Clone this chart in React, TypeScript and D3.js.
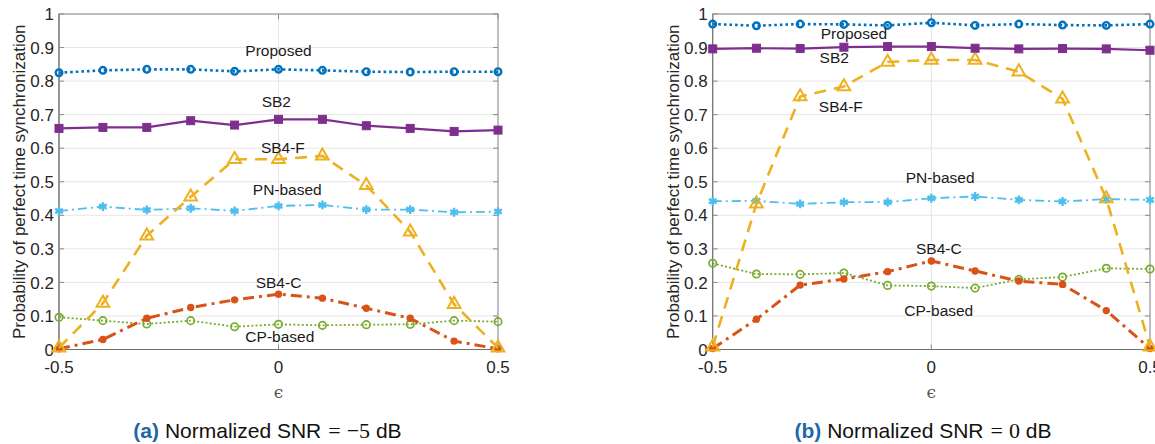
import React from "react";
import * as d3 from "d3";

// offsets epsilon
const eps = [-0.5, -0.4, -0.3, -0.2, -0.1, 0, 0.1, 0.2, 0.3, 0.4, 0.5];

// (a) normalized SNR = -5 dB
const proposedA = [0.825, 0.832, 0.835, 0.835, 0.829, 0.835, 0.832, 0.828, 0.827, 0.828, 0.828];
const sb2A = [0.659, 0.662, 0.662, 0.682, 0.669, 0.686, 0.686, 0.667, 0.659, 0.65, 0.654];
const sb4fA = [0.005, 0.138, 0.339, 0.455, 0.567, 0.567, 0.577, 0.489, 0.351, 0.135, 0.005];
const pnA = [0.413, 0.426, 0.416, 0.421, 0.413, 0.428, 0.431, 0.417, 0.417, 0.409, 0.411];
const sb4cA = [0.002, 0.03, 0.093, 0.125, 0.148, 0.165, 0.153, 0.123, 0.093, 0.025, 0.002];
const cpA = [0.096, 0.086, 0.076, 0.086, 0.068, 0.075, 0.072, 0.074, 0.075, 0.086, 0.083];

// (b) normalized SNR = 0 dB
const proposedB = [0.97, 0.965, 0.97, 0.969, 0.966, 0.974, 0.966, 0.97, 0.967, 0.966, 0.97];
const sb2B = [0.896, 0.898, 0.897, 0.901, 0.903, 0.903, 0.898, 0.896, 0.897, 0.896, 0.892];
const sb4fB = [0.008, 0.434, 0.754, 0.784, 0.857, 0.863, 0.863, 0.828, 0.747, 0.45, 0.008];
const pnB = [0.442, 0.443, 0.434, 0.439, 0.439, 0.451, 0.456, 0.446, 0.441, 0.448, 0.446];
const sb4cB = [0.003, 0.09, 0.192, 0.21, 0.232, 0.264, 0.234, 0.204, 0.194, 0.116, 0.003];
const cpB = [0.257, 0.225, 0.224, 0.228, 0.191, 0.189, 0.183, 0.209, 0.216, 0.242, 0.24];

const seriesNames = ["Proposed", "SB2", "SB4-F", "PN-based", "SB4-C", "CP-based"];

const yTicks = [0, 0.1, 0.2, 0.3, 0.4, 0.5, 0.6, 0.7, 0.8, 0.9, 1];
const yTickLabels = ["0", "0.1", "0.2", "0.3", "0.4", "0.5", "0.6", "0.7", "0.8", "0.9", "1"];
const xTicks = [-0.5, 0, 0.5];
const xTickLabels = ["-0.5", "0", "0.5"];

const W = 1155;
const H = 444;
const FONT = "'Liberation Sans', Arial, Helvetica, sans-serif";
const SERIF = "'Liberation Serif', 'DejaVu Serif', serif";

type Style = {
  color: string;
  width: number;
  dash: string;
  marker: "ring" | "square" | "triangle" | "asterisk" | "dot" | "circle";
};

const styles: Record<string, Style> = {
  Proposed: { color: "#0072BD", width: 2.6, dash: "2.6 3", marker: "ring" },
  SB2: { color: "#7E2F8E", width: 2.2, dash: "", marker: "square" },
  "SB4-F": { color: "#EDB120", width: 2.6, dash: "12 8", marker: "triangle" },
  "PN-based": { color: "#4DBEEE", width: 1.8, dash: "9 4 2 4", marker: "asterisk" },
  "SB4-C": { color: "#D95319", width: 3, dash: "11 5 3 5", marker: "dot" },
  "CP-based": { color: "#77AC30", width: 1.8, dash: "2 2.2", marker: "circle" },
};

const drawOrder = ["CP-based", "SB4-C", "PN-based", "SB4-F", "SB2", "Proposed"];

type Note = { name: string; x: number; y: number };

const notesA: Note[] = [
  { name: "Proposed", x: 0.0, y: 0.875 },
  { name: "SB2", x: -0.005, y: 0.723 },
  { name: "SB4-F", x: 0.01, y: 0.586 },
  { name: "PN-based", x: 0.02, y: 0.46 },
  { name: "SB4-C", x: 0.0, y: 0.183 },
  { name: "CP-based", x: 0.003, y: 0.023 },
];

const notesB: Note[] = [
  { name: "Proposed", x: -0.177, y: 0.925 },
  { name: "SB2", x: -0.222, y: 0.854 },
  { name: "SB4-F", x: -0.207, y: 0.708 },
  { name: "PN-based", x: 0.02, y: 0.496 },
  { name: "SB4-C", x: 0.017, y: 0.284 },
  { name: "CP-based", x: 0.017, y: 0.1 },
];

const triangle = d3.symbol().type(d3.symbolTriangle).size(70)();
const asterisk = d3.symbol().type(d3.symbolAsterisk).size(55)();

function Marker({ s, cx, cy }: { s: Style; cx: number; cy: number }) {
  switch (s.marker) {
    case "ring":
      return <circle cx={cx} cy={cy} r={3.3} fill="none" stroke={s.color} strokeWidth={2.4} />;
    case "square":
      return <rect x={cx - 4} y={cy - 4} width={8} height={8} fill={s.color} stroke={s.color} strokeWidth={1} />;
    case "triangle":
      return (
        <path d={triangle!} transform={`translate(${cx},${cy})`} fill="none" stroke={s.color} strokeWidth={2} />
      );
    case "asterisk":
      return (
        <path d={asterisk!} transform={`translate(${cx},${cy})`} fill="none" stroke={s.color} strokeWidth={2.4} />
      );
    case "dot":
      return <circle cx={cx} cy={cy} r={3.7} fill={s.color} />;
    default:
      return <circle cx={cx} cy={cy} r={3.7} fill="none" stroke={s.color} strokeWidth={1.7} />;
  }
}

function Panel({
  x0,
  x1,
  data,
  notes,
}: {
  x0: number;
  x1: number;
  data: number[][];
  notes: Note[];
}) {
  const top = 14;
  const bottom = 349.5;
  const x = d3.scaleLinear().domain([-0.5, 0.5]).range([x0, x1]);
  const y = d3.scaleLinear().domain([0, 1]).range([bottom, top]);
  const axisCol = "#8a8a8a";
  const textCol = "#262626";
  const tick = 5;

  const line = d3
    .line<number>()
    .x((_, i) => x(eps[i]))
    .y((v) => y(v));

  return (
    <g>
      {/* grid */}
      {yTicks.map((t) => (
        <line key={"gy" + t} x1={x0} x2={x1} y1={y(t)} y2={y(t)} stroke="#e6e6e6" strokeWidth={1} />
      ))}
      {xTicks.map((t) => (
        <line key={"gx" + t} x1={x(t)} x2={x(t)} y1={top} y2={bottom} stroke="#e6e6e6" strokeWidth={1} />
      ))}

      {/* box and ticks */}
      <rect x={x0} y={top} width={x1 - x0} height={bottom - top} fill="none" stroke={axisCol} strokeWidth={1} />
      <line x1={x0} x2={x0} y1={top} y2={bottom} stroke="#6f6f6f" />
      <line x1={x0} x2={x1} y1={bottom} y2={bottom} stroke="#6f6f6f" />
      {yTicks.map((t) => (
        <g key={"ty" + t}>
          <line x1={x0} x2={x0 + tick} y1={y(t)} y2={y(t)} stroke={axisCol} />
          <line x1={x1} x2={x1 - tick} y1={y(t)} y2={y(t)} stroke={axisCol} />
        </g>
      ))}
      {xTicks.map((t) => (
        <g key={"tx" + t}>
          <line x1={x(t)} x2={x(t)} y1={bottom} y2={bottom - tick} stroke={axisCol} />
          <line x1={x(t)} x2={x(t)} y1={top} y2={top + tick} stroke={axisCol} />
        </g>
      ))}

      {/* tick labels */}
      {yTicks.map((t, i) => (
        <text
          key={"ly" + t}
          x={x0 - 5}
          y={y(t)}
          dy="0.36em"
          textAnchor="end"
          fontFamily={FONT}
          fontSize={17}
          fill={textCol}
        >
          {yTickLabels[i]}
        </text>
      ))}
      {xTicks.map((t, i) => (
        <text
          key={"lx" + t}
          x={x(t)}
          y={bottom + 23}
          textAnchor="middle"
          fontFamily={FONT}
          fontSize={17}
          fill={textCol}
        >
          {xTickLabels[i]}
        </text>
      ))}

      {/* axis labels */}
      <text
        transform={`translate(${x0 - 34},${(top + bottom) / 2}) rotate(-90)`}
        textAnchor="middle"
        fontFamily={FONT}
        fontSize={17}
        fill={textCol}
      >
        Probability of perfect time synchronization
      </text>
      <text
        x={(x0 + x1) / 2}
        y={398}
        textAnchor="middle"
        fontFamily="'DejaVu Serif', serif"
        fontSize={17}
        fill="#555"
      >
        ϵ
      </text>

      {/* series */}
      {drawOrder.map((name) => {
        const s = styles[name];
        const vals = data[seriesNames.indexOf(name)];
        return (
          <g key={name}>
            <path
              d={line(vals)!}
              fill="none"
              stroke={s.color}
              strokeWidth={s.width}
              strokeDasharray={s.dash || undefined}
              strokeLinejoin="round"
            />
            {vals.map((v, i) => (
              <Marker key={i} s={s} cx={x(eps[i])} cy={y(v)} />
            ))}
          </g>
        );
      })}

      {/* in-plot labels */}
      {notes.map((n) => (
        <text
          key={"n" + n.name}
          x={x(n.x)}
          y={y(n.y)}
          textAnchor="middle"
          fontFamily={FONT}
          fontSize={15.5}
          fill="#1a1a1a"
        >
          {n.name}
        </text>
      ))}
    </g>
  );
}

function Caption({ cx, tag, snr }: { cx: number; tag: string; snr: string }) {
  return (
    <text x={cx} y={438} textAnchor="middle" fontFamily={FONT} fontSize={21} fill="#111">
      <tspan fontWeight="bold" fill="#1f67a8">
        ({tag})
      </tspan>
      <tspan> Normalized SNR</tspan>
      <tspan fontFamily={SERIF} fontSize={22} dx={7}>
        =
      </tspan>
      <tspan fontFamily={SERIF} fontSize={22} dx={6}>
        {snr}
      </tspan>
      <tspan> dB</tspan>
    </text>
  );
}

export default function App() {
  const dataA = [proposedA, sb2A, sb4fA, pnA, sb4cA, cpA];
  const dataB = [proposedB, sb2B, sb4fB, pnB, sb4cB, cpB];
  return (
    <svg
      width={W}
      height={H}
      style={{ position: "absolute", left: 0, top: 0, background: "#fff" }}
    >
      <rect width={W} height={H} fill="#fff" />
      <Panel x0={59} x1={498} data={dataA} notes={notesA} />
      <Panel x0={712.7} x1={1150} data={dataB} notes={notesB} />
      <Caption cx={267.5} tag="a" snr={"\u22125"} />
      <Caption cx={923} tag="b" snr="0" />
    </svg>
  );
}
